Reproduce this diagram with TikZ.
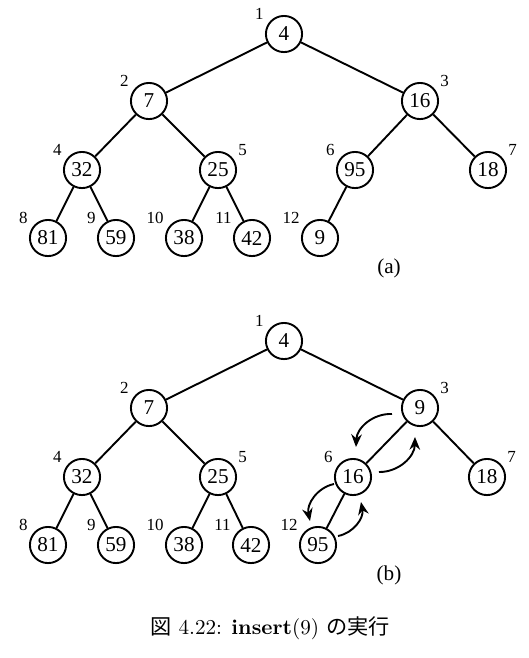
\documentclass[tikz,border=0pt]{standalone}
\usepackage{fontspec}
\newfontfamily\treefont{Liberation Serif}
\newfontfamily\jpfont{Noto Sans CJK JP}
\usetikzlibrary{arrows.meta, calc}

\begin{document}
\begin{tikzpicture}[
    x=0.0166cm, y=-0.0166cm,
    label distance=2.5pt,
    key/.style={
        draw, circle, line width=0.9pt, minimum size=0.6cm, inner sep=0pt,
        font=\treefont
    },
    idx/.style={font=\treefont\footnotesize, inner sep=0pt},
    lkey/.style={key, label={[idx]145:#1}},
    rkey/.style={key, label={[idx]35:#1}},
    edge/.style={line width=0.9pt},
    swap/.style={line width=0.9pt, -{Stealth[length=6pt, width=5pt]}, bend right=45},
    sub/.style={font=\treefont}
]
\useasboundingbox (0,0) rectangle (529,658);

% === Heap (a) ===
% Level 1-2
\node[lkey=1] (a1) at (284,34) {4};
\node[lkey=2] (a2) at (149,101) {7};
\node[rkey=3] (a3) at (420,101) {16};

% Level 3
\node[lkey=4] (a4) at (82,170) {32};
\node[rkey=5] (a5) at (218,170) {25};
\node[lkey=6] (a6) at (355,170) {95};
\node[rkey=7] (a7) at (488,170) {18};

% Level 4
\node[lkey=8] (a8) at (48,238) {81};
\node[lkey=9] (a9) at (116,238) {59};
\node[lkey=10] (a10) at (184,238) {38};
\node[lkey=11] (a11) at (252,238) {42};
\node[lkey=12] (a12) at (320,238) {9};

\draw[edge] (a1) -- (a2) (a1) -- (a3)
            (a2) -- (a4) (a2) -- (a5) (a3) -- (a6) (a3) -- (a7)
            (a4) -- (a8) (a4) -- (a9) (a5) -- (a10) (a5) -- (a11) (a6) -- (a12);

\node[sub] (suba) at (389,268) {(a)};

% === Heap (b) ===
% Level 1-2
\node[lkey=1] (b1) at (284,341) {4};
\node[lkey=2] (b2) at (149,408) {7};
\node[rkey=3] (b3) at (420,408) {9};

% Level 3
\node[lkey=4] (b4) at (82,477) {32};
\node[rkey=5] (b5) at (218,477) {25};
\node[lkey=6] (b6) at (353,477) {16};
\node[rkey=7] (b7) at (487,477) {18};

% Level 4
\node[lkey=8] (b8) at (48,545) {81};
\node[lkey=9] (b9) at (116,545) {59};
\node[lkey=10] (b10) at (184,545) {38};
\node[lkey=11] (b11) at (251,545) {42};
\node[lkey=12] (b12) at (318,545) {95};

\draw[edge] (b1) -- (b2) (b1) -- (b3)
            (b2) -- (b4) (b2) -- (b5) (b3) -- (b6) (b3) -- (b7)
            (b4) -- (b8) (b4) -- (b9) (b5) -- (b10) (b5) -- (b11) (b6) -- (b12);

% Swap arrows
\draw[swap] ($(b3)+(-28,6)$) to ($(b6)+(3,-30)$);
\draw[swap] ($(b6)+(26,-5)$) to ($(b3)+(-5,29)$);
\draw[swap] ($(b6)+(-19,7)$) to ($(b12)+(-8,-24)$);
\draw[swap] ($(b12)+(20,-9)$) to ($(b6)+(8,25)$);

\node[sub] (subb) at (389,575) {(b)};

% Caption
\node (caption) at (270,628) {{\jpfont 図} 4.22: \textbf{insert}(9) {\jpfont の実行}};

\end{tikzpicture}
\end{document}
